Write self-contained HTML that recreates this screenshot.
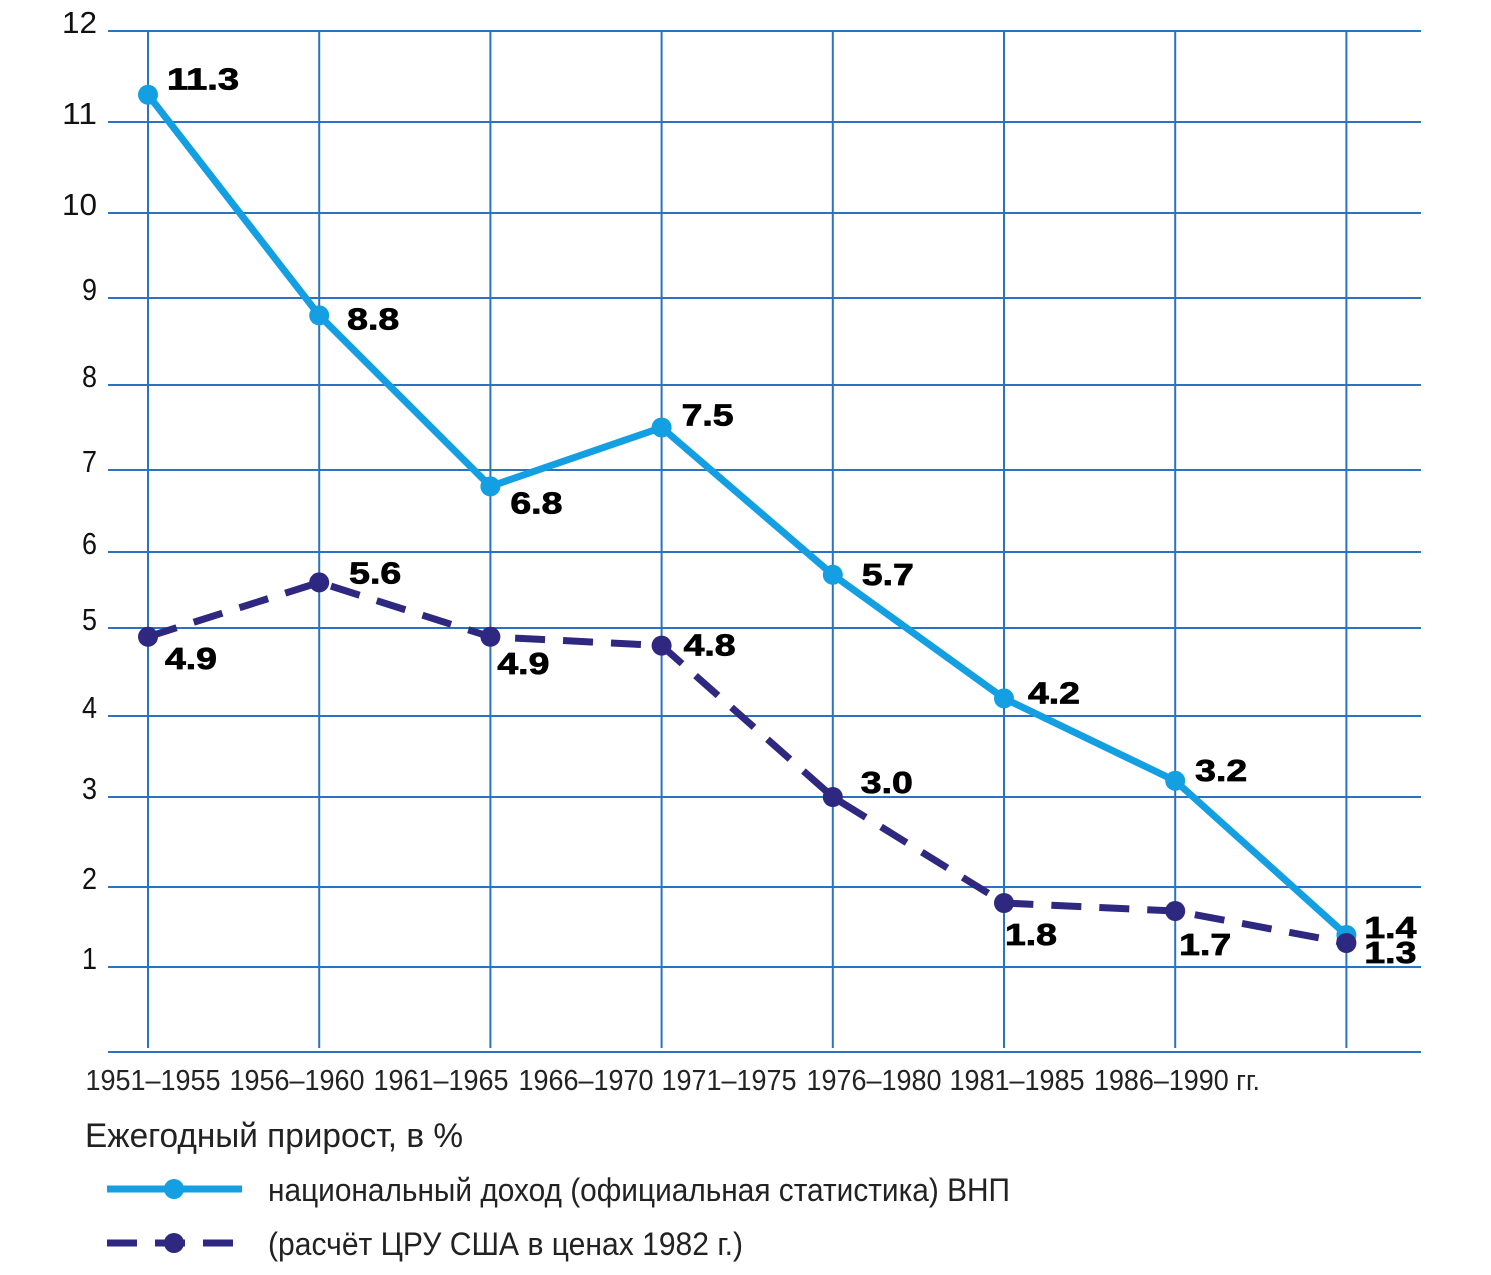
<!DOCTYPE html>
<html><head><meta charset="utf-8"><style>body{margin:0;background:#fff}svg{display:block}</style></head>
<body>
<svg id="chart" width="1491" height="1275" viewBox="0 0 1491 1275" xmlns="http://www.w3.org/2000/svg" font-family="Liberation Sans, sans-serif"></svg>
<script>
const categories = ["1951–1955","1956–1960","1961–1965","1966–1970","1971–1975","1976–1980","1981–1985","1986–1990 гг."];
const officialValues = [11.3, 8.8, 6.8, 7.5, 5.7, 4.2, 3.2, 1.4];
const ciaValues = [4.9, 5.6, 4.9, 4.8, 3.0, 1.8, 1.7, 1.3];
const yTicks = [1,2,3,4,5,6,7,8,9,10,11,12];

const NS = "http://www.w3.org/2000/svg";
const svg = document.getElementById("chart");
function el(tag, attrs, parent){const e=document.createElementNS(NS,tag);for(const k in attrs)e.setAttribute(k,attrs[k]);(parent||svg).appendChild(e);return e;}
const x = i => 148 + i*171.2;
// hand-drawn grid: pixel row of each integer gridline 0..12
const gridRows = [1052,967,887,797,716,628,552,470,385,298,213,122,31];
const y = v => { const lo = Math.max(0, Math.min(11, Math.floor(v))); const f = v - lo; return gridRows[lo] + f*(gridRows[lo+1]-gridRows[lo]); };
const grid = "#2a72c2";

for (const t of [0, ...yTicks]) {
  const l = el("line",{x1:108,x2:1421,y1:y(t),y2:y(t),stroke:grid,"stroke-width":2});
  
  
}
for (const t of yTicks) {
  const tx = el("text",{x:97,y:y(t)+2,"text-anchor":"end","font-size":31,fill:"#111",textLength:t>=10?35:15,lengthAdjust:"spacingAndGlyphs"});
  tx.textContent = t;
  
  
}
const xLabelPos = [153,297,441,586,729,874,1017,1177];
categories.forEach((c,i)=>{
  const l = el("line",{x1:x(i),x2:x(i),y1:y(12),y2:1048,stroke:grid,"stroke-width":2});
  
  
  const t = el("text",{x:xLabelPos[i],y:1090,"text-anchor":"middle","font-size":29,fill:"#222",textLength:i===7?166:135,lengthAdjust:"spacingAndGlyphs"});
  t.textContent = c;
  
  
});

function series(vals, color, dash, name){
  const pts = vals.map((v,i)=>x(i)+","+y(v)).join(" ");
  const a = {points:pts,fill:"none",stroke:color,"stroke-width":7,"stroke-linejoin":"round"};
  if (dash) a["stroke-dasharray"]=dash;
  const p = el("polyline",a);
  
  
  vals.forEach((v,i)=>{
    const c = el("circle",{cx:x(i),cy:y(v),r:10,fill:color});
    
    
  });
}
series(officialValues,"#139fe2",null,"official");
series(ciaValues,"#2f2880","30 18","cia");

const offA = [[19,-5],[28,14],[20,27],[20,-2],[29,10],[24,5],[20,0],[18,3]];
const offB = [[17,32],[30,1],[7,37],[22,10],[28,-4],[1,42],[4,44],[18,20]];
function labels(vals, offs, name){
  vals.forEach((v,i)=>{
    const t = el("text",{x:x(i)+offs[i][0],y:y(v)+offs[i][1],"font-size":31,"font-weight":"bold",fill:"#000",stroke:"#000","stroke-width":0.8,textLength:v>=10?72:52,lengthAdjust:"spacingAndGlyphs"});
    t.textContent = v.toFixed(1);
    
    
  });
}
labels(officialValues,offA,"official");
labels(ciaValues,offB,"cia");

const lt = el("text",{x:85,y:1147,"font-size":34,fill:"#222",textLength:378,lengthAdjust:"spacingAndGlyphs"});
lt.textContent="Ежегодный прирост, в %";


const l1 = el("line",{x1:107,x2:242,y1:1189,y2:1189,stroke:"#139fe2","stroke-width":7});


const c1 = el("circle",{cx:174,cy:1189,r:10,fill:"#139fe2"});


const t1 = el("text",{x:268,y:1201,"font-size":32,fill:"#222",textLength:742,lengthAdjust:"spacingAndGlyphs"});
t1.textContent="национальный доход (официальная статистика) ВНП";


const l2 = el("line",{x1:107,x2:242,y1:1243,y2:1243,stroke:"#2f2880","stroke-width":7,"stroke-dasharray":"30 18"});


const c2 = el("circle",{cx:174,cy:1243,r:10,fill:"#2f2880"});


const t2 = el("text",{x:268,y:1255,"font-size":32,fill:"#222",textLength:475,lengthAdjust:"spacingAndGlyphs"});
t2.textContent="(расчёт ЦРУ США в ценах 1982 г.)";


</script>
</body></html>
